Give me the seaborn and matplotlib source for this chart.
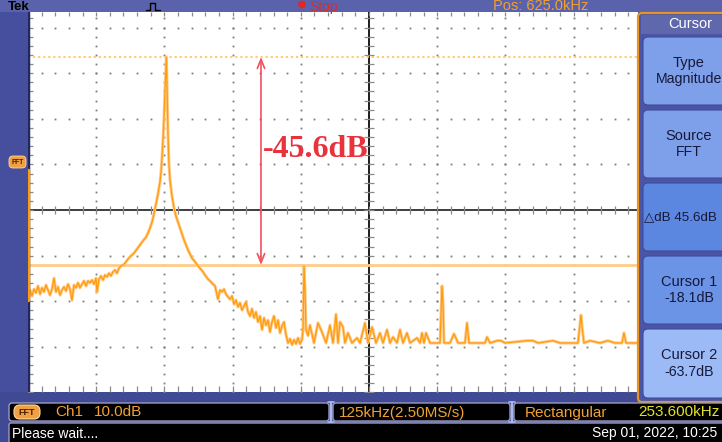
import numpy as np
import matplotlib
matplotlib.use("Agg")
import matplotlib.pyplot as plt
import seaborn as sns
from matplotlib.patches import Rectangle, FancyBboxPatch, Circle
from matplotlib.lines import Line2D

# ---------------- data (read from the screen) ----------------
# frequency in kHz, level in dB
left_noise_khz = [0, 3.7, 7.3, 11.0, 14.7, 18.3, 22.0, 25.7, 29.3, 33.0, 36.7, 40.3, 44.0, 47.7,
                  51.3, 55.0, 58.7, 62.3, 66.0, 69.6, 73.3, 77.0, 80.6, 84.3, 88.0, 91.6, 95.3,
                  99.0, 102.6, 106.3, 110.0, 113.6, 117.3, 121.0, 124.6, 126.5, 130.1, 133.8,
                  137.5, 141.1, 144.8, 148.5, 152.1, 155.8, 159.5, 163.1, 166.8, 170.5, 174.1,
                  177.8, 183.3, 188.8, 194.3, 199.8, 205.3, 210.8, 216.3, 219.9, 223.6, 227.3]
left_noise_db = [-71.2, -69.2, -70.5, -69.0, -69.8, -68.3, -70.1, -68.7, -69.6, -68.1, -69.2, -70.3,
                 -69.0, -66.6, -69.6, -68.5, -70.3, -69.2, -68.5, -69.4, -67.9, -69.0, -71.4, -68.1,
                 -68.7, -67.6, -68.7, -67.9, -67.2, -68.3, -67.2, -67.6, -67.0, -67.9, -66.6, -69.6,
                 -66.8, -66.1, -67.0, -65.9, -66.3, -65.5, -66.1, -65.2, -64.8, -65.5, -64.4, -63.9,
                 -63.7, -63.3, -62.4, -61.7, -61.1, -60.2, -59.3, -58.4, -57.6, -56.7, -55.6, -54.3]

carrier_khz = [230.9, 234.6, 238.3, 241.9, 243.8, 245.6, 247.4, 249.3, 251.1, 253.6, 254.8,
               256.6, 258.4, 260.3, 263.9, 267.6, 271.3, 274.9, 278.6, 282.3]
carrier_db = [-52.5, -50.3, -48.1, -45.5, -43.3, -40.2, -36.3, -31.5, -25.3, -18.1, -24.2,
              -35.2, -41.8, -45.1, -48.6, -51.2, -53.0, -54.3, -55.6, -56.9]

right_skirt_khz = [285.9, 289.6, 293.2, 296.9, 300.6, 306.1, 311.6, 315.2, 320.7, 324.4, 329.9,
                   333.6, 339.1, 342.7, 348.2, 351.9, 355.6, 359.2, 362.9, 366.6, 370.2, 373.9,
                   377.6, 381.2, 384.9, 388.6, 392.2, 395.9, 399.6, 403.2, 406.9, 410.5, 414.2,
                   417.9, 421.5, 425.2, 428.9, 432.5, 436.2, 439.9, 443.5, 447.2, 450.9, 454.5,
                   458.2, 461.9, 465.5, 469.2, 472.9, 476.5, 480.2, 483.9, 487.5, 491.2, 494.9,
                   498.5, 502.2, 504.0, 505.9, 507.7, 509.5, 513.2]
right_skirt_db = [-58.2, -59.3, -60.4, -61.3, -62.2, -63.0, -63.9, -64.4, -65.2, -65.9, -66.8,
                  -67.2, -67.9, -68.3, -71.2, -69.2, -69.6, -69.0, -70.1, -70.7, -71.2, -70.5,
                  -72.3, -71.4, -72.9, -72.0, -73.6, -72.7, -71.8, -74.0, -74.9, -73.3, -75.3,
                  -74.0, -76.2, -74.9, -77.9, -75.3, -76.9, -75.8, -78.4, -76.2, -74.9, -77.5,
                  -75.8, -78.6, -77.1, -76.2, -79.0, -80.8, -79.9, -81.2, -80.1, -81.0, -79.7,
                  -81.0, -80.1, -77.9, -63.9, -69.2, -77.9, -79.2]

floor_khz = [516.8, 524.2, 531.5, 538.8, 546.2, 553.5, 559.0, 564.5, 568.2, 571.8, 577.3, 581.0,
             586.5, 593.8, 603.0, 608.5, 612.2, 617.6, 623.2, 630.5, 637.8, 645.1, 650.6, 658.0,
             663.5, 669.0, 676.3, 681.8, 687.3, 694.6, 700.1, 713.0, 718.5, 722.1, 725.8, 729.5,
             736.8, 755.1, 758.8, 760.6, 762.5, 773.4, 780.8, 788.1, 800.9, 804.6, 808.3, 837.6,
             841.3, 846.8, 859.6, 866.9, 874.3, 914.6, 925.6, 934.7, 962.2, 975.0, 1008.0,
             1013.5, 1015.3, 1019.0, 1030.0, 1048.4, 1063.0, 1075.8, 1088.7, 1092.3, 1096.0, 1118.0]
floor_db = [-76.9, -80.8, -76.4, -78.4, -80.8, -76.9, -80.8, -74.5, -80.8, -76.2, -77.3, -80.8,
            -78.6, -80.8, -79.7, -80.8, -79.0, -76.4, -80.8, -77.3, -80.8, -78.6, -80.8, -77.9,
            -80.8, -79.5, -80.8, -77.9, -80.8, -78.6, -80.8, -79.7, -80.8, -78.6, -80.8, -78.6,
            -80.8, -80.8, -68.3, -72.0, -80.8, -80.8, -78.8, -80.8, -80.8, -76.4, -80.8, -80.8,
            -79.5, -80.8, -80.3, -80.3, -80.8, -80.3, -80.3, -80.8, -80.3, -80.8, -80.8,
            -74.7, -77.1, -80.8, -80.3, -80.8, -80.3, -80.8, -80.8, -78.6, -80.8, -80.8]

cursor1_db = -18.1
cursor2_db = -63.7
delta_label = "-45.6dB"
center_khz = 625.0
khz_per_div = 125
db_per_div = 10
grid_center_db = -51.65
x_view = (0, 1118)
y_view = (-91.55, -8.23)

freq = np.array(left_noise_khz + carrier_khz + right_skirt_khz + floor_khz)
level = np.array(left_noise_db + carrier_db + right_skirt_db + floor_db)

# ---------------- figure ----------------
sns.set_theme(style="white")
plt.rcParams['font.family'] = ['Liberation Sans', 'DejaVu Sans']

W, H = 722, 442
fig = plt.figure(figsize=(W / 100, H / 100), dpi=100)
fig.patch.set_facecolor('#3f4994')

ax = fig.add_axes([28 / W, 1 - 392 / H, 610 / W, 380 / H])
ax.set_facecolor('white')
for s in ax.spines.values():
    s.set_visible(False)

# graticule
dot_c = '#7c7c7c'
minor_x = np.arange(0, x_view[1], khz_per_div / 5)
minor_y = np.arange(grid_center_db - 4 * db_per_div, y_view[1], db_per_div / 5)
for k in [1, 2, 3, 4, 6, 7, 8]:
    xv = k * khz_per_div
    ax.plot(np.full_like(minor_y, xv), minor_y, ls='none', marker='s', ms=1.3, mew=0, color=dot_c)
for k in [-3, -2, -1, 1, 2, 3, 4]:
    yv = grid_center_db + k * db_per_div
    ax.plot(minor_x, np.full_like(minor_x, yv), ls='none', marker='s', ms=1.3, mew=0, color=dot_c)
# center cross with ticks
ax.axvline(center_khz, color='#1c1c1c', lw=1.4, zorder=2)
ax.axhline(grid_center_db, color='#1c1c1c', lw=1.2, zorder=2)
ax.plot(np.full_like(minor_y, center_khz), minor_y, ls='none', marker='_', ms=7, mew=0.9, color='#8a8a8a')
ax.plot(minor_x, np.full_like(minor_x, grid_center_db), ls='none', marker='|', ms=6, mew=0.9, color='#8a8a8a')
# edge ticks
ax.plot(minor_x, np.full_like(minor_x, y_view[1] - 0.4), ls='none', marker='|', ms=3, mew=0.9, color='#8a8a8a')
ax.plot(minor_x, np.full_like(minor_x, y_view[0] + 0.6), ls='none', marker='|', ms=4, mew=0.9, color='#8a8a8a')
ax.plot(np.full_like(minor_y, 3), minor_y, ls='none', marker='_', ms=4, mew=0.9, color='#8a8a8a')

# cursors
ax.axhline(cursor1_db, color='#ffc46a', ls=(0, (1.2, 1.6)), lw=1.3, zorder=3)
ax.axhline(cursor2_db, color='#ffcc88', lw=2.0, zorder=3)

# spectrum trace
sns.lineplot(x=freq, y=level, ax=ax, color='#ffca88', lw=2.2, sort=False, estimator=None, zorder=4)
sns.lineplot(x=freq, y=level, ax=ax, color='#ff9c0c', lw=0.9, sort=False, estimator=None, zorder=5)

# left border
ax.axvline(0, color='#22285e', lw=2.5, zorder=6)
ax.plot([0, 0], [-42.9, -71.4], color='#ff9c0c', lw=2.5, zorder=7)

# annotation arrow + label
arrow_x = 427
ax.annotate('', xy=(arrow_x, cursor1_db), xytext=(arrow_x, cursor2_db),
            arrowprops=dict(arrowstyle='<->,head_length=0.55,head_width=0.22', color='#f2505e',
                            lw=1.2, shrinkA=0, shrinkB=0), zorder=8)
ax.text(431, -38.3, delta_label, color='#e8323c', fontsize=23, fontweight='bold',
        family=['Liberation Serif', 'DejaVu Serif'], ha='left', va='center', zorder=8)

ax.set_xlim(*x_view)
ax.set_ylim(*y_view)
ax.set_xticks([])
ax.set_yticks([])
ax.set_xlabel('')
ax.set_ylabel('')

# ---------------- instrument chrome (pixel overlay) ----------------
ov = fig.add_axes([0, 0, 1, 1], zorder=5)
ov.set_xlim(0, W)
ov.set_ylim(H, 0)
ov.axis('off')


def box(x0, y0, x1, y1, fc, ec='none', lw=0, r=0, z=1):
    if r:
        p = FancyBboxPatch((x0 + r, y0 + r), x1 - x0 - 2 * r, y1 - y0 - 2 * r,
                           boxstyle=f"round,pad={r}", fc=fc, ec=ec, lw=lw, zorder=z)
    else:
        p = Rectangle((x0, y0), x1 - x0, y1 - y0, fc=fc, ec=ec, lw=lw, zorder=z)
    ov.add_patch(p)


# top bar, left strip
box(0, 0, W, 12, '#5a62ab')
box(0, 12, 28, 392, '#454f9d')
ov.text(8, 6.5, 'Tek', color='black', fontsize=9.5, fontweight='bold', va='center', ha='left', zorder=3)
ov.add_line(Line2D([146, 150, 150, 155, 155, 160], [10, 10, 3, 3, 10, 10], color='black', lw=1, zorder=3))
ov.add_patch(Circle((302, 4.5), 3.2, color='#e02828', zorder=3))
ov.text(309, 6.5, 'Stop', color='#e02828', fontsize=10, va='center', ha='left', zorder=3)
ov.text(493, 6.5, 'Pos: 625.0kHz', color='#f0a030', fontsize=10.5, va='center', ha='left', zorder=3)

# FFT reference badge on the left
box(9, 156, 26, 168, '#f0a040', ec='#ffd9a0', lw=0.6, r=4, z=3)
ov.text(17.5, 162, 'FFT', color='#4a2000', fontsize=4.8, fontweight='bold', ha='center', va='center', zorder=4)

# menu
box(638, 13, W + 6, 402, '#4b55a3', ec='#e8941e', lw=1.6, r=4, z=2)
box(641, 15, W + 4, 34, '#5f68ad', z=3)
ov.text(690, 24.5, 'Cursor', color='white', fontsize=10.5, ha='center', va='center', zorder=4)
buttons = [
    (37, 105, '#7ea0ea', ['Type', 'Magnitude']),
    (110, 178, '#7ea0ea', ['Source', 'FFT']),
    (183, 251, '#5b87e0', None),
    (256, 324, '#6b93e6', ['Cursor 1', '-18.1dB']),
    (329, 398, '#9cbaf6', ['Cursor 2', '-63.7dB']),
]
for y0, y1, c, lines in buttons:
    box(643, y0, W + 10, y1, c, ec='#3e4da0', lw=0.8, r=5, z=3)
    if lines:
        mid = (y0 + y1) / 2
        ov.text(689, mid - 8.5, lines[0], color='#16183a', fontsize=10.5, ha='center', va='center', zorder=4)
        ov.text(689, mid + 8.5, lines[1], color='#16183a', fontsize=10.2, ha='center', va='center', zorder=4)
ov.text(644, 217, '\u25b3dB 45.6dB', color='#16183a', fontsize=9.6, ha='left', va='center', zorder=4)

# bottom readouts
bc = '#9a9ac0'
box(9, 403, 329, 421, 'black', ec=bc, lw=1, r=3, z=3)
box(333, 403, 510, 421, 'black', ec=bc, lw=1, r=3, z=3)
box(514, 403, W + 10, 421, 'black', ec=bc, lw=1, r=3, z=3)
box(9, 423, W + 10, 446, 'black', ec=bc, lw=1, r=2, z=3)
for xs in (331, 512):
    ov.add_line(Line2D([xs, xs], [402, 422], color='#a8b8ea', lw=1.6, zorder=4))
    ov.add_line(Line2D([xs - 3, xs + 3], [402, 402], color='#a8b8ea', lw=1.2, zorder=4))
    ov.add_line(Line2D([xs - 3, xs + 3], [422, 422], color='#a8b8ea', lw=1.2, zorder=4))
box(14, 405, 40, 419, '#f0a040', ec='#ffd9a0', lw=0.8, r=6, z=4)
ov.text(27, 412.3, 'FFT', color='#4a2000', fontsize=6.5, fontweight='bold', ha='center', va='center', zorder=5)
orng = '#f2a234'
ov.text(55, 412.5, 'Ch1', color=orng, fontsize=11, va='center', ha='left', zorder=5)
ov.text(94, 412.5, '10.0dB', color=orng, fontsize=11, va='center', ha='left', zorder=5)
ov.text(339, 412.5, '125kHz(2.50MS/s)', color=orng, fontsize=11, va='center', ha='left', zorder=5)
ov.text(525, 412.5, 'Rectangular', color=orng, fontsize=11, va='center', ha='left', zorder=5)
ov.text(638, 412.5, '253.600kHz', color='#e2e22a', fontsize=11, va='center', ha='left', zorder=5)
ov.text(12, 433.5, 'Please wait....', color='white', fontsize=10, va='center', ha='left', zorder=5)
ov.text(592, 433.5, 'Sep 01, 2022, 10:25', color='white', fontsize=10, va='center', ha='left', zorder=5)

fig.savefig('out.png', dpi=100)
